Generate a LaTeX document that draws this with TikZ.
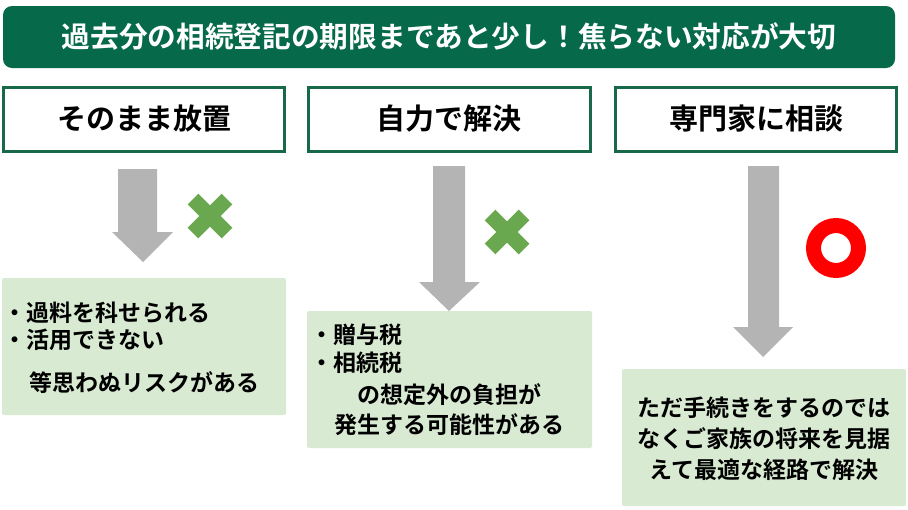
\documentclass[tikz,border=0pt]{standalone}
\usepackage{fontspec}
\setmainfont{Noto Sans CJK JP}[BoldFont={* Bold}]
\newfontfamily\jpb{Noto Sans CJK JP Bold}
\definecolor{titlegreen}{HTML}{066949}
\definecolor{framegreen}{HTML}{17694A}
\definecolor{boxgreen}{HTML}{D9EAD3}
\definecolor{arrowgray}{HTML}{B4B4B4}
\definecolor{xgreen}{HTML}{6AA84F}
\definecolor{ringred}{HTML}{FF0000}
\begin{document}
\begin{tikzpicture}[x=1pt,y=-1pt,
  titlebox/.style={fill=titlegreen, rounded corners=9pt},
  headbox/.style={draw=framegreen, line width=3pt, fill=white},
  bodybox/.style={fill=boxgreen, rounded corners=2pt},
  headtext/.style={font=\jpb\fontsize{29}{32}\selectfont, inner sep=0pt},
  bodytext/.style={font=\jpb\fontsize{23}{26}\selectfont, inner sep=0pt},
  grayarrow/.style={fill=arrowgray},
  xmark/.style={draw=xgreen, line width=15pt, line cap=butt},
  ring/.style={draw=ringred, line width=15pt}]
\useasboundingbox (0,0) rectangle (908,509);
% title
\fill[titlebox] (3,6) rectangle (895,68);
\node[font=\jpb\fontsize{28.7}{32}\selectfont, text=white, inner sep=0pt] (title) at (449,37) {過去分の相続登記の期限まであと少し！焦らない対応が大切};
% headers
\draw[headbox] (3.5,87.5) rectangle (284.5,151);
\draw[headbox] (308.5,87.5) rectangle (590,151);
\draw[headbox] (615.5,87.5) rectangle (896,151);
\node[headtext] (h1) at (144,119) {そのまま放置};
\node[headtext] (h2) at (449,119) {自力で解決};
\node[headtext] (h3) at (756,119) {専門家に相談};
% arrows
\fill[grayarrow] (118,169) -- (157,169) -- (157,232) -- (173,232) -- (143,262) -- (112,232) -- (118,232) -- cycle;
\fill[grayarrow] (433,166) -- (465,166) -- (465,282) -- (480,282) -- (449,311) -- (419,282) -- (433,282) -- cycle;
\fill[grayarrow] (748,166) -- (779,166) -- (779,327) -- (793,327) -- (763,357) -- (733,327) -- (748,327) -- cycle;
% marks
\draw[xmark] (193,199) -- (227,233) (227,199) -- (193,233);
\draw[xmark] (490,215) -- (524,249) (524,215) -- (490,249);
\draw[ring] (836,248) circle (22.5);
% body boxes
\fill[bodybox] (2,278) rectangle (286,415);
\fill[bodybox] (307,311) rectangle (592,448);
\fill[bodybox] (622,369) rectangle (906,506);
\node[bodytext, anchor=west] (b1a) at (3,313) {・過料を科せられる};
\node[bodytext, anchor=west] (b1b) at (3,340) {・活用できない};
\node[bodytext] (b1c) at (144,383) {等思わぬリスクがある};
\node[bodytext, anchor=west] (b2a) at (310,335) {・贈与税};
\node[bodytext, anchor=west] (b2b) at (310,363) {・相続税};
\node[bodytext] (b2c) at (449,395) {の想定外の負担が};
\node[bodytext] (b2d) at (449,425) {発生する可能性がある};
\node[bodytext] (b3a) at (764,408) {ただ手続きをするのでは};
\node[bodytext] (b3b) at (764,439) {なくご家族の将来を見据};
\node[bodytext] (b3c) at (764,470) {えて最適な経路で解決};
\end{tikzpicture}
\end{document}
